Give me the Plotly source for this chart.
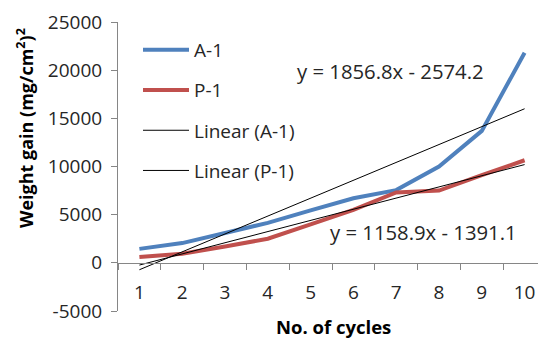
import plotly.graph_objects as go

cycles = ["1", "2", "3", "4", "5", "6", "7", "8", "9", "10"]
a1 = [1450, 2050, 3100, 4150, 5450, 6700, 7550, 10000, 13700, 21800]
p1 = [600, 950, 1700, 2500, 4000, 5500, 7300, 7500, 9100, 10650]

a1_slope, a1_intercept = 1856.8, -2574.2
p1_slope, p1_intercept = 1158.9, -1391.1
eq_a1 = "y = 1856.8x - 2574.2"
eq_p1 = "y = 1158.9x - 1391.1"

y_ticks = [-5000, 0, 5000, 10000, 15000, 20000, 25000]
y_tick_labels = ["-5000", "0", "5000", "10000", "15000", "20000", "25000"]

xs = list(range(1, len(cycles) + 1))
lin_a1 = [a1_slope * x + a1_intercept for x in xs]
lin_p1 = [p1_slope * x + p1_intercept for x in xs]

FONT = "Open Sans"
OFF = 8  # default page body margin
W, H = 546 - OFF, 339 - OFF
L, R, T, B = 118 - OFF, 0, 22 - OFF, 28
PW, PH = W - L - R, H - T - B

def px(x):
    return (x - OFF - L) / PW

def py(y):
    return (H - B - (y - OFF)) / PH

TXT = "#262626"
fig = go.Figure()
fig.add_trace(go.Scatter(x=cycles, y=a1, mode="lines", name="A-1",
                         line=dict(color="#4F81BD", width=4), legendgroup="a"))
fig.add_trace(go.Scatter(x=cycles, y=p1, mode="lines", name="P-1",
                         line=dict(color="#C0504D", width=4), legendgroup="b"))
fig.add_trace(go.Scatter(x=cycles, y=lin_a1, mode="lines", name="Linear (A-1)",
                         line=dict(color="#000000", width=1), legendgroup="c"))
fig.add_trace(go.Scatter(x=cycles, y=lin_p1, mode="lines", name="Linear (P-1)",
                         line=dict(color="#000000", width=1), legendgroup="d"))

axis_col = "#868686"
fig.update_layout(
    width=W, height=H,
    margin=dict(l=L, r=R, t=T, b=B, autoexpand=False),
    paper_bgcolor="white", plot_bgcolor="white",
    font=dict(family=FONT, size=19, color=TXT),
    showlegend=True,
    legend=dict(x=px(138), y=py(31), xanchor="left", yanchor="top",
                bgcolor="rgba(0,0,0,0)", tracegroupgap=12.5,
                font=dict(family=FONT, size=19, color=TXT),
                itemwidth=46),
    xaxis=dict(type="category", range=[-0.5, 9.5], anchor="free", position=1/6,
               showline=True, linecolor=axis_col, linewidth=1,
               ticks="outside", ticklen=6, tickcolor=axis_col, tickson="boundaries",
               showgrid=False, zeroline=False, ticklabelstandoff=12, automargin=False,
               tickfont=dict(family=FONT, size=19, color=TXT)),
    yaxis=dict(range=[-5000, 25000], tickvals=y_ticks, ticktext=y_tick_labels,
               showline=True, linecolor=axis_col, linewidth=1,
               ticks="outside", ticklen=6, tickcolor=axis_col,
               showgrid=False, zeroline=False, ticklabelstandoff=5, automargin=False,
               tickfont=dict(family=FONT, size=19, color=TXT)),
    annotations=[
        dict(text=eq_a1, xref="paper", yref="paper", x=px(295), y=py(71),
             xanchor="left", yanchor="middle", showarrow=False,
             font=dict(family=FONT, size=20.3, color=TXT)),
        dict(text=eq_p1, xref="paper", yref="paper", x=px(328), y=py(232),
             xanchor="left", yanchor="middle", showarrow=False,
             font=dict(family=FONT, size=20.3, color=TXT)),
        dict(text="<b>Weight gain (mg/cm<sup>2</sup>)<sup>2</sup></b>", xref="paper", yref="paper",
             x=px(25), y=py(128), xanchor="center", yanchor="middle",
             textangle=-90, showarrow=False,
             font=dict(family=FONT, size=18, color="#000000")),
        dict(text="<b>No. of cycles</b>", xref="paper", yref="paper",
             x=px(333), y=py(326), xanchor="center", yanchor="middle",
             showarrow=False, font=dict(family=FONT, size=18.5, color="#000000")),
    ],
)

fig.write_html("out.html")
